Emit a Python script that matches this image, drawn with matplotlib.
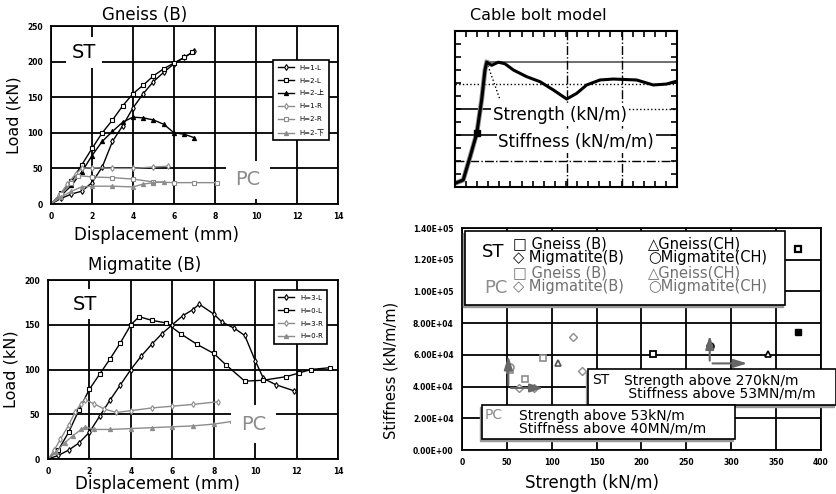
import matplotlib
matplotlib.use('Agg')
import matplotlib.pyplot as plt
from matplotlib.patches import Rectangle
from matplotlib.ticker import MultipleLocator

plt.rcParams['font.family'] = ['DejaVu Sans', 'Noto Sans CJK JP']

W, H = 837, 494
GRAY = '#8c8c8c'

# Gneiss (B) load-displacement curves
gn_labels = ['H=1-L', 'H=2-L', 'H=2-上', 'H=1-R', 'H=2-R', 'H=2-下']
gn_x = [
    [0, 0.5, 1, 1.5, 2, 2.5, 3, 3.5, 4, 4.5, 5, 5.5, 6, 6.5, 7.0],
    [0, 0.5, 1, 1.5, 2, 2.5, 3, 3.5, 4, 4.5, 5, 5.5, 6, 6.5, 6.9],
    [0, 0.5, 1, 1.5, 2, 2.5, 3, 3.5, 4, 4.5, 5, 5.5, 6, 6.5, 7.0],
    [0, 0.4, 0.8, 1.2, 1.5, 2, 3, 4, 5, 5.7],
    [0, 0.5, 1, 1.3, 2, 3, 4, 5, 6, 7, 8.1],
    [0, 0.5, 1, 1.5, 2, 3, 4, 4.5, 5, 5.5],
]
gn_y = [
    [0, 8, 14, 18, 30, 52, 88, 110, 135, 155, 172, 185, 197, 206, 215],
    [0, 15, 32, 55, 78, 100, 118, 138, 155, 167, 180, 190, 198, 206, 213],
    [0, 12, 26, 45, 68, 88, 102, 115, 122, 121, 118, 112, 100, 98, 93],
    [0, 12, 28, 42, 50, 51, 50, 50, 52, 53],
    [0, 14, 30, 40, 38, 37, 35, 31, 30, 30, 30],
    [0, 10, 18, 24, 25, 25, 24, 28, 30, 31],
]

# Migmatite (B) load-displacement curves
mg_labels = ['H=3-L', 'H=0-L', 'H=3-R', 'H=0-R']
mg_x = [
    [0, 0.5, 1, 1.5, 2, 2.5, 3, 3.5, 4, 4.5, 5, 5.5, 6, 6.5, 7, 7.3, 8, 8.4, 9, 9.5, 10, 10.4, 11, 11.9],
    [0, 0.5, 1, 1.5, 2, 2.5, 3, 3.5, 4, 4.4, 5, 5.7, 6.4, 7.2, 8, 8.6, 9.5, 10.4, 11.5, 12.1, 12.7, 13.6],
    [0, 0.3, 0.6, 1, 1.3, 1.6, 1.8, 2.2, 2.7, 3.3, 4, 5, 6, 7, 8.2],
    [0, 0.4, 0.8, 1.2, 1.6, 1.8, 2.2, 3, 4, 5, 6, 7, 8, 8.9],
]
mg_y = [
    [0, 4, 10, 18, 30, 48, 66, 83, 100, 115, 128, 140, 150, 160, 167, 173, 162, 153, 146, 138, 110, 90, 83, 76],
    [0, 10, 30, 55, 78, 95, 112, 130, 150, 159, 155, 152, 140, 128, 118, 105, 87, 88, 92, 96, 100, 102],
    [0, 10, 22, 38, 52, 62, 66, 62, 56, 52, 54, 57, 59, 61, 64],
    [0, 8, 18, 26, 33, 36, 33, 33, 34, 35, 36, 37, 39, 42],
]

# cable bolt model response (arbitrary units)
cb_x = [0.8, 3.7, 6.8, 9.8, 12, 13.5, 14.3, 16.5, 19.5, 22.5, 26.3, 32.3, 38.3, 44.3,
        50.3, 54.8, 59.3, 65.3, 71.3, 81.8, 89.3, 95.3, 99]
cb_y = [2.8, 4.5, 19.4, 34.4, 55.8, 75, 80, 78, 80, 79, 75, 70.7, 67.5, 62.2,
        56.4, 60, 65.4, 68.6, 69.2, 68.6, 65.4, 66, 67.5]

# strength vs stiffness
st_gneiss_b_x = [213, 374, 374]
st_gneiss_b_y = [60300, 74600, 126500]
st_gneiss_ch_x = [340.6]
st_gneiss_ch_y = [60300]
st_migm_ch_x = [276]
st_migm_ch_y = [65500]
pc_gneiss_b_x = [53.5, 70, 90]
pc_gneiss_b_y = [50400, 44600, 57800]
pc_migm_b_x = [63.5, 80.5, 124, 134]
pc_migm_b_y = [38900, 38900, 71400, 49800]
pc_gneiss_ch_x = [107]
pc_gneiss_ch_y = [54600]
pc_migm_ch_x = [53.5]
pc_migm_ch_y = [52500]
st_limit = (276, 54600)
pc_limit = (51.6, 39100)

sc_xticks = [0, 50, 100, 150, 200, 250, 300, 350, 400]
sc_yticks = [0, 20000, 40000, 60000, 80000, 100000, 120000, 140000]
sc_ylabels = ['0.00E+00', '2.00E+04', '4.00E+04', '6.00E+04', '8.00E+04',
              '1.00E+05', '1.20E+05', '1.40E+05']

fig = plt.figure(figsize=(W / 100, H / 100), dpi=100)


def box(l, t, r, b):
    return [l / W, 1 - b / H, (r - l) / W, (b - t) / H]


def fx(x):
    return x / W


def fy(y):
    return 1 - y / H


def style_grid(ax):
    ax.grid(True, color='black', lw=1.3)
    for s in ax.spines.values():
        s.set_linewidth(1.3)
    ax.tick_params(length=0, labelsize=5.5, pad=6)
    for lab in ax.get_xticklabels() + ax.get_yticklabels():
        lab.set_fontweight('bold')


markers = ['d', 's', '^']

# ---- top left: Gneiss (B)
ax1 = fig.add_axes(box(51, 26, 338, 204))
for i in range(6):
    col = 'black' if i < 3 else GRAY
    mk = markers[i % 3]
    ax1.plot(gn_x[i], gn_y[i], color=col, lw=1.0, marker=mk, ms=3,
             mfc='white' if mk != '^' else col, mec=col, mew=0.8, label=gn_labels[i])
ax1.set_xlim(0, 14)
ax1.set_ylim(0, 250)
ax1.set_xticks(range(0, 15, 2))
ax1.set_yticks(range(0, 251, 50))
style_grid(ax1)
ax1.set_ylabel('Load (kN)', fontsize=11.5, labelpad=4)
ax1.text(1.0, 213, 'ST', fontsize=14, va='center',
         bbox=dict(boxstyle='square,pad=0.3', fc='white', ec='none'))
ax1.text(9.0, 34, 'PC', fontsize=14, va='center', color=GRAY,
         bbox=dict(boxstyle='square,pad=0.5', fc='white', ec='none'))
lg = ax1.legend(loc='upper left', bbox_to_anchor=(0.763, 0.826), fontsize=5,
                handlelength=2.4, fancybox=False, edgecolor='black', framealpha=1,
                borderpad=0.6, labelspacing=1.0)
lg.get_frame().set_linewidth(1.2)
fig.text(fx(145), fy(15), 'Gneiss (B)', fontsize=12, ha='center', va='center')
fig.text(fx(157), fy(235), 'Displacement (mm)', fontsize=12, ha='center', va='center')

# ---- bottom left: Migmatite (B)
ax2 = fig.add_axes(box(48, 280, 338, 459))
mg_marks = ['d', 's', 'd', '^']
for i in range(4):
    col = 'black' if i < 2 else GRAY
    mk = mg_marks[i]
    ax2.plot(mg_x[i], mg_y[i], color=col, lw=1.0, marker=mk, ms=3,
             mfc='white' if mk != '^' else col, mec=col, mew=0.8, label=mg_labels[i])
ax2.set_xlim(0, 14)
ax2.set_ylim(0, 200)
ax2.set_xticks(range(0, 15, 2))
ax2.set_yticks(range(0, 201, 50))
style_grid(ax2)
ax2.set_ylabel('Load (kN)', fontsize=11.5, labelpad=4)
ax2.text(1.2, 173, 'ST', fontsize=14, va='center',
         bbox=dict(boxstyle='square,pad=0.3', fc='white', ec='none'))
ax2.text(9.3, 39, 'PC', fontsize=14, va='center', color=GRAY,
         bbox=dict(boxstyle='square,pad=0.5', fc='white', ec='none'))
lg2 = ax2.legend(loc='upper left', bbox_to_anchor=(0.766, 0.961), fontsize=5,
                 handlelength=2.4, fancybox=False, edgecolor='black', framealpha=1,
                 borderpad=0.6, labelspacing=1.0)
lg2.get_frame().set_linewidth(1.2)
fig.text(fx(145), fy(265), 'Migmatite (B)', fontsize=12, ha='center', va='center')
fig.text(fx(158), fy(484), 'Displacement (mm)', fontsize=12, ha='center', va='center')

# ---- top right: cable bolt model
ax3 = fig.add_axes(box(455, 31, 677, 187))
ax3.set_xlim(0, 100)
ax3.set_ylim(0, 100)
ax3.axhline(66, color='black', lw=1.0, ls=':')
ax3.plot([14, 100], [80, 80], color='#555555', lw=1.2)
ax3.plot([0, 50], [49.8, 49.8], color='black', lw=1.2)
ax3.plot([50, 100], [49.8, 49.8], color='black', lw=1.0, ls=':')
ax3.axhline(33.3, color='black', lw=1.2)
ax3.axhline(16.7, color='black', lw=1.0, ls='-.')
ax3.axvline(50.5, color='black', lw=1.0, ls='-.')
ax3.axvline(75, color='black', lw=1.0, ls='-.')
ax3.plot([14.3, 20.3], [80, 55.8], color='black', lw=1.0, ls=':')
ax3.plot(cb_x[:7], cb_y[:7], color=GRAY, lw=3.5)
ax3.plot(cb_x, cb_y, color='black', lw=2.2)
ax3.plot([cb_x[3]], [cb_y[3]], marker='s', color='black', ms=4)
ax3.text(17, 46, 'Strength (kN/m)', fontsize=12, va='center',
         bbox=dict(boxstyle='square,pad=0.1', fc='white', ec='none'))
ax3.text(19.5, 28.8, 'Stiffness (kN/m/m)', fontsize=12, va='center',
         bbox=dict(boxstyle='square,pad=0.1', fc='white', ec='none'))
ax3.xaxis.set_major_locator(MultipleLocator(25))
ax3.xaxis.set_minor_locator(MultipleLocator(5))
ax3.yaxis.set_major_locator(MultipleLocator(100 / 6))
ax3.yaxis.set_minor_locator(MultipleLocator(100 / 12))
ax3.tick_params(which='both', direction='in', top=True, right=True,
                labelbottom=False, labelleft=False, length=4, width=1.2)
for s in ax3.spines.values():
    s.set_linewidth(1.5)
fig.text(fx(538), fy(15), 'Cable bolt model', fontsize=11.5, ha='center', va='center')

# ---- bottom right: strength vs stiffness
ax4 = fig.add_axes(box(462, 228, 821, 450))
ax4.set_xlim(0, 400)
ax4.set_ylim(0, 140000)
ax4.set_xticks(sc_xticks)
ax4.set_yticks(sc_yticks)
ax4.set_yticklabels(sc_ylabels)
style_grid(ax4)
ax4.plot(st_gneiss_b_x[:1], st_gneiss_b_y[:1], 's', ms=5, mfc='white', mec='black', mew=1.3)
ax4.plot(st_gneiss_b_x[1:2], st_gneiss_b_y[1:2], 's', ms=5, mfc='black', mec='black')
ax4.plot(st_gneiss_b_x[2:], st_gneiss_b_y[2:], 's', ms=5, mfc='white', mec='black', mew=1.6)
ax4.plot(st_gneiss_ch_x, st_gneiss_ch_y, '^', ms=5, mfc='white', mec='black', mew=1.2)
ax4.plot(st_migm_ch_x, st_migm_ch_y, 'o', ms=5, mfc='white', mec='black', mew=1.2)
ax4.plot(pc_gneiss_b_x, pc_gneiss_b_y, 's', ms=5, mfc='white', mec=GRAY, mew=1.2)
ax4.plot(pc_migm_b_x, pc_migm_b_y, 'D', ms=4, mfc='white', mec=GRAY, mew=1.0)
ax4.plot(pc_gneiss_ch_x, pc_gneiss_ch_y, '^', ms=5, mfc='white', mec='#555555', mew=1.2)
ax4.plot(pc_migm_ch_x, pc_migm_ch_y, 'o', ms=5, mfc='white', mec=GRAY, mew=1.2)

arrow = dict(arrowstyle='-|>,head_length=0.8,head_width=0.25', color='#666666', lw=1.5)
ax4.annotate('', xy=(st_limit[0], 74000), xytext=st_limit, arrowprops=arrow)
ax4.annotate('', xy=(321, st_limit[1]), xytext=st_limit, arrowprops=arrow)
ax4.annotate('', xy=(pc_limit[0], 61100), xytext=pc_limit, arrowprops=arrow)
ax4.annotate('', xy=(94, pc_limit[1]), xytext=pc_limit, arrowprops=arrow)

fig.text(fx(391), fy(370), 'Stiffness (kN/m/m)', fontsize=10.5, rotation=90,
         ha='center', va='center')
fig.text(fx(592), fy(483), 'Strength (kN/m)', fontsize=12, ha='center', va='center')


def framed(l, t, r, b):
    fig.patches.append(Rectangle((fx(l) - 2 / W, fy(b) - 2 / H), (r - l) / W, (b - t) / H,
                                 transform=fig.transFigure, fc='#999999', ec='#999999',
                                 lw=1.0, zorder=4))
    fig.patches.append(Rectangle((fx(l), fy(b)), (r - l) / W, (b - t) / H,
                                 transform=fig.transFigure, fc='white', ec='black',
                                 lw=1.2, zorder=5))


# legend panel for the scatter
framed(465, 231, 785, 305)
legend_col1 = ['\u25a1 Gneiss (B)\n\u25c7 Migmatite(B)', '\u25a1 Gneiss (B)\n\u25c7 Migmatite(B)']
legend_col2 = ['\u25b3Gneiss(CH)\n\u25cbMigmatite(CH)', '\u25b3Gneiss(CH)\n\u25cbMigmatite(CH)']
leg_rows = [251, 280]
for k in range(2):
    col = 'black' if k == 0 else '#707070'
    fig.text(fx(513), fy(leg_rows[k]), legend_col1[k], fontsize=10.5, va='center',
             color=col, zorder=6, linespacing=0.85)
    fig.text(fx(648), fy(leg_rows[k]), legend_col2[k], fontsize=10.5, va='center',
             color=col, zorder=6, linespacing=0.85)
fig.text(fx(482), fy(252), 'ST', fontsize=13, va='center', zorder=6)
fig.text(fx(484), fy(288), 'PC', fontsize=13, va='center', color=GRAY, zorder=6)

# criteria boxes
framed(588, 369, 836, 405)
fig.text(fx(592), fy(380), 'ST', fontsize=10, va='center', zorder=6)
fig.text(fx(624), fy(387), 'Strength above 270kN/m\n Stiffness above 53MN/m/m',
         fontsize=10, va='center', zorder=6, linespacing=0.85)
framed(482, 405, 735, 439)
fig.text(fx(485), fy(415), 'PC', fontsize=10, va='center', color=GRAY, zorder=6)
fig.text(fx(519), fy(422), 'Strength above 53kN/m\nStiffness above 40MN/m/m',
         fontsize=10, va='center', zorder=6, linespacing=0.85)

fig.savefig('out.png', dpi=100)
